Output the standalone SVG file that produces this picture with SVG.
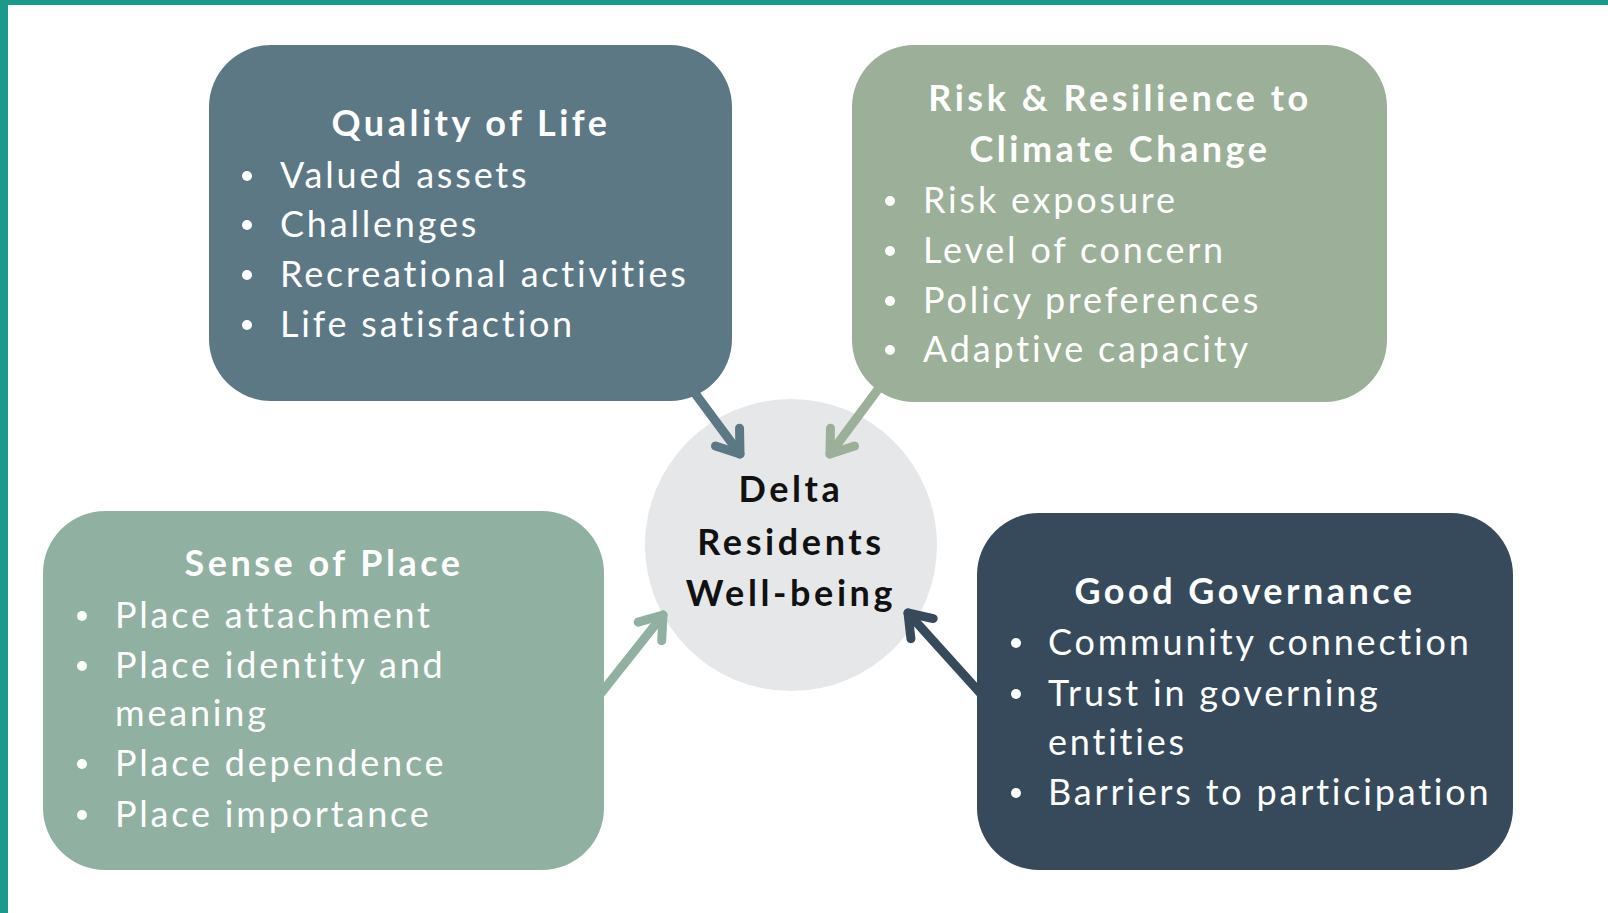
<svg xmlns="http://www.w3.org/2000/svg" width="1608" height="913" viewBox="0 0 1608 913">
<style>
.box{stroke:none}
.t{font-family:Lato,"Open Sans","Liberation Sans",sans-serif;font-weight:700;font-size:36px;fill:#fff;text-anchor:middle;letter-spacing:3.5px}
.i{font-family:Lato,"Open Sans","Liberation Sans",sans-serif;font-weight:400;font-size:36px;fill:#fff;letter-spacing:2.8px}
.c{font-family:Lato,"Open Sans","Liberation Sans",sans-serif;font-weight:700;font-size:36px;fill:#111;text-anchor:middle;letter-spacing:3.6px}
.bul{fill:#fff}
.arr{fill:none;stroke-width:9;stroke-linecap:round}
.head{fill:none;stroke-width:9;stroke-linecap:round;stroke-linejoin:round}
</style>
<defs>
<marker id="mQ" markerUnits="userSpaceOnUse" viewBox="0 0 40 40" markerWidth="40" markerHeight="40" refX="30" refY="20" orient="auto" overflow="visible"><path class="head" stroke="#5b7884" d="M9,5 L30,20 L9,35"/></marker>
<marker id="mR" markerUnits="userSpaceOnUse" viewBox="0 0 40 40" markerWidth="40" markerHeight="40" refX="30" refY="20" orient="auto" overflow="visible"><path class="head" stroke="#9caf98" d="M9,5 L30,20 L9,35"/></marker>
<marker id="mS" markerUnits="userSpaceOnUse" viewBox="0 0 40 40" markerWidth="40" markerHeight="40" refX="30" refY="20" orient="auto" overflow="visible"><path class="head" stroke="#90b0a2" d="M9,5 L30,20 L9,35"/></marker>
<marker id="mG" markerUnits="userSpaceOnUse" viewBox="0 0 40 40" markerWidth="40" markerHeight="40" refX="30" refY="20" orient="auto" overflow="visible"><path class="head" stroke="#364a5c" d="M9,5 L30,20 L9,35"/></marker>
</defs>
<rect x="0" y="0" width="1608" height="913" fill="#fff"/>
<rect x="0" y="0" width="1608" height="5" fill="#1a9a8a"/>
<rect x="0" y="0" width="8" height="913" fill="#1a9a8a"/>

<g id="quality-of-life">
<rect class="box" x="209" y="45" width="523" height="356" rx="62" fill="#5b7884"/>
<text class="t" x="471" y="136">Quality of Life</text>
<circle class="bul" cx="247" cy="176" r="5"/><text class="i" x="280" y="188">Valued assets</text>
<circle class="bul" cx="247" cy="225" r="5"/><text class="i" x="280" y="237">Challenges</text>
<circle class="bul" cx="247" cy="275" r="5"/><text class="i" x="280" y="287">Recreational activities</text>
<circle class="bul" cx="247" cy="325" r="5"/><text class="i" x="280" y="337">Life satisfaction</text>
</g>

<g id="risk-resilience">
<rect class="box" x="852" y="45" width="535" height="357" rx="62" fill="#9caf98"/>
<text class="t" x="1120" y="111">Risk &amp; Resilience to</text>
<text class="t" x="1120" y="162">Climate Change</text>
<circle class="bul" cx="890" cy="201" r="5"/><text class="i" x="923" y="213">Risk exposure</text>
<circle class="bul" cx="890" cy="251" r="5"/><text class="i" x="923" y="263">Level of concern</text>
<circle class="bul" cx="890" cy="301" r="5"/><text class="i" x="923" y="313">Policy preferences</text>
<circle class="bul" cx="890" cy="350" r="5"/><text class="i" x="923" y="362">Adaptive capacity</text>
</g>

<g id="sense-of-place">
<rect class="box" x="43" y="511" width="561" height="359" rx="62" fill="#90b0a2"/>
<text class="t" x="324" y="576">Sense of Place</text>
<circle class="bul" cx="82" cy="616" r="5"/><text class="i" x="115" y="628">Place attachment</text>
<circle class="bul" cx="82" cy="666" r="5"/><text class="i" x="115" y="678">Place identity and</text>
<text class="i" x="115" y="726">meaning</text>
<circle class="bul" cx="82" cy="764" r="5"/><text class="i" x="115" y="776">Place dependence</text>
<circle class="bul" cx="82" cy="815" r="5"/><text class="i" x="115" y="827">Place importance</text>
</g>

<g id="good-governance">
<rect class="box" x="977" y="513" width="536" height="357" rx="62" fill="#364a5c"/>
<text class="t" x="1245" y="604">Good Governance</text>
<circle class="bul" cx="1016" cy="643" r="5"/><text class="i" x="1048" y="655">Community connection</text>
<circle class="bul" cx="1016" cy="694" r="5"/><text class="i" x="1048" y="706">Trust in governing</text>
<text class="i" x="1048" y="755">entities</text>
<circle class="bul" cx="1016" cy="793" r="5"/><text class="i" x="1048" y="805">Barriers to participation</text>
</g>

<g id="delta-wellbeing">
<circle cx="791" cy="545" r="146" fill="#e6e7e9"/>
<text class="c" x="791" y="502">Delta</text>
<text class="c" x="791" y="555">Residents</text>
<text class="c" x="791" y="606">Well-being</text>
</g>

<g id="connectors">
<line class="arr" stroke="#5b7884" x1="694" y1="392" x2="740" y2="454" marker-end="url(#mQ)"/>
<line class="arr" stroke="#9caf98" x1="879" y1="388" x2="830" y2="454" marker-end="url(#mR)"/>
<line class="arr" stroke="#90b0a2" x1="598" y1="697" x2="663" y2="615" marker-end="url(#mS)"/>
<line class="arr" stroke="#364a5c" x1="982" y1="695" x2="908" y2="613" marker-end="url(#mG)"/>
</g>
</svg>
